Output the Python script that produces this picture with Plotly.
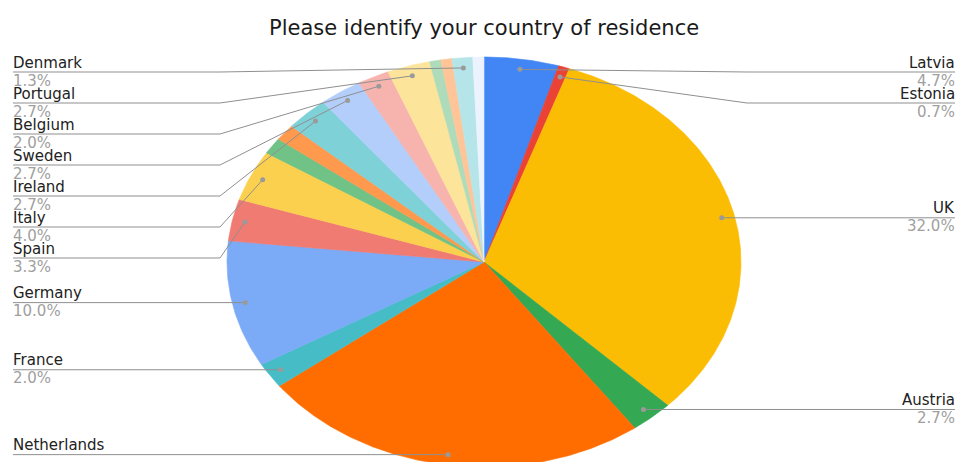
import math
import plotly.graph_objects as go

# ---- data ----
title = "Please identify your country of residence"
countries = ["Latvia", "Estonia", "UK", "Austria", "Netherlands", "France", "Germany",
             "Spain", "Italy", "", "", "Ireland", "Sweden", "Belgium", "Portugal",
             "", "", "Denmark", ""]
percents = [4.7, 0.7, 32.0, 2.7, 24.7, 2.0, 10.0,
            3.3, 4.0, 1.3, 1.3, 2.7, 2.7, 2.0, 2.7,
            0.7, 0.7, 1.3, 0.7]
colors = ["#4285F4", "#EA4335", "#FBBC04", "#34A853", "#FF6D01", "#46BDC6", "#7BAAF7",
          "#F07B72", "#FCD04F", "#71C287", "#FF994D", "#7ED1D7", "#B3CEFB", "#F7B4AE",
          "#FDE49B", "#AEDCBA", "#FFC599", "#B5E5E8", "#ECF3FE"]

# ---- layout constants ----
W, H = 956, 462
CX, CY, RX, RY = 484, 262, 257, 205
FONT = "DejaVu Sans"
LINE_COL = "#8f8f8f"

fig = go.Figure()
total = sum(percents)


def pt(theta_deg, r):
    t = math.radians(theta_deg)
    return CX + RX * r * math.sin(t), CY - RY * r * math.cos(t)


start = 0.0
mids = []
for name, val, col in zip(countries, percents, colors):
    span = val / total * 360.0
    n = max(4, int(span / 0.5))
    xs, ys = [CX], [CY]
    for i in range(n + 1):
        x, y = pt(start + span * i / n, 1.0)
        xs.append(x)
        ys.append(y)
    xs.append(CX)
    ys.append(CY)
    fig.add_trace(go.Scatter(x=xs, y=ys, mode="lines", fill="toself", fillcolor=col,
                             line=dict(color=col, width=0.6), hoverinfo="text",
                             text=f"{name} {val:.1f}%", showlegend=False))
    mids.append(start + span / 2)
    start += span

# ---- labels with leader lines ----
left, right = [], []
for name, val, mid in zip(countries, percents, mids):
    if not name:
        continue
    dx, dy = pt(mid, 0.95)
    (right if mid < 180 else left).append((name, val, dx, dy))

left.sort(key=lambda t: t[3])
right.sort(key=lambda t: t[3])

SPACING, TOP = 31, 72


def place(items, side):
    prev = None
    for name, val, dx, dy in items:
        ly = max(dy, TOP) if prev is None else max(dy, prev + SPACING)
        prev = ly
        if side == "left":
            lx0, tx, anchor, bend, xs_ = 13, 13, "left", 220, -2
            if dx > bend:
                lx = [lx0, bend, dx]
                lyy = [ly, ly, dy]
            else:
                lx, lyy = [lx0, dx], [ly, dy]
        else:
            lx0, tx, anchor, bend, xs_ = 955, 955, "right", 747, 2
            lx = [dx, bend, lx0]
            lyy = [dy, ly, ly]
        fig.add_trace(go.Scatter(x=lx, y=lyy, mode="lines",
                                 line=dict(color=LINE_COL, width=1),
                                 hoverinfo="skip", showlegend=False))
        fig.add_trace(go.Scatter(x=[dx], y=[dy], mode="markers",
                                 marker=dict(color="#9a9a9a", size=5),
                                 hoverinfo="skip", showlegend=False))
        fig.add_annotation(x=tx, y=ly - 9.5, text=name, showarrow=False, xshift=xs_,
                           xanchor=anchor, yanchor="middle", xref="x", yref="y",
                           font=dict(family=FONT, size=15, color="#222222"))
        fig.add_annotation(x=tx, y=ly + 8.5, text=f"{val:.1f}%", showarrow=False,
                           xshift=xs_, xanchor=anchor, yanchor="middle", xref="x",
                           yref="y", font=dict(family=FONT, size=15, color="#a0a0a0"))


place(left, "left")
place(right, "right")

fig.add_annotation(x=CX, y=28, text=title, showarrow=False, xanchor="center",
                   yanchor="middle", xref="x", yref="y",
                   font=dict(family=FONT, size=21, color="#1a1a1a"))

fig.update_layout(width=W, height=H, margin=dict(l=0, r=0, t=0, b=0),
                  paper_bgcolor="white", plot_bgcolor="white", showlegend=False,
                  xaxis=dict(range=[0, W], visible=False, fixedrange=True),
                  yaxis=dict(range=[H, 0], visible=False, fixedrange=True))

fig.write_html("out.html",
               config={"displayModeBar": False},
               post_script="document.body.style.margin='0';"
                           "document.body.style.overflow='hidden';")
